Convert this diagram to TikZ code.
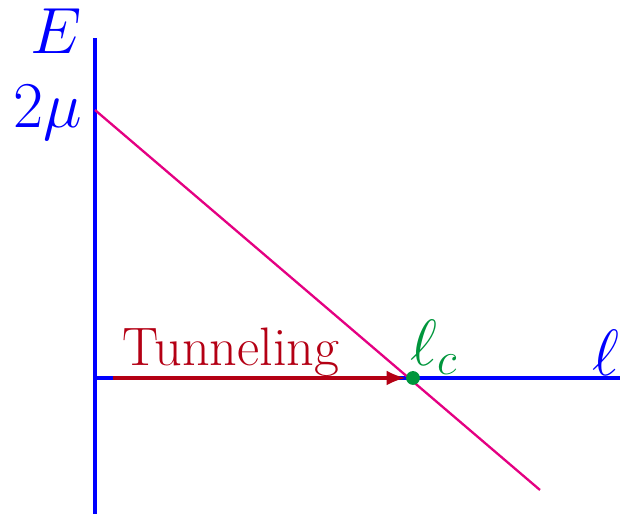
\RequirePackage{fix-cm}
\documentclass[tikz,border=0pt]{standalone}
\usepackage{tikz}
\usetikzlibrary{arrows.meta, positioning}
\definecolor{axisblue}{RGB}{0, 0, 255}
\definecolor{linemagenta}{RGB}{228, 0, 130}
\definecolor{tunnelred}{RGB}{180, 0, 20}
\definecolor{pointgreen}{RGB}{0, 150, 60}

\begin{document}
\begin{tikzpicture}[
    axis/.style={draw=axisblue, line width=1.5pt},
    cutline/.style={draw=linemagenta, line width=1.1pt},
    tunnel/.style={draw=tunnelred, line width=1.5pt,
                   -{Latex[length=9pt, width=7pt]}},
    dot/.style={circle, fill=pointgreen, inner sep=0pt, minimum size=0.23cm},
    mlbl/.style={inner sep=0pt, font=\fontsize{31}{36}\selectfont},
    tlbl/.style={inner sep=0pt, text=tunnelred, font=\fontsize{25.7}{30}\selectfont}
]
    \useasboundingbox (0,0) rectangle (10.367,8.567);
    % axes
    \coordinate (O) at (1.583,2.267);
    \coordinate (Etop) at (1.583,7.933);
    \coordinate (Ebot) at (1.583,0);
    \coordinate (lend) at (10.333,2.267);
    \coordinate (mutop) at (1.583,6.733);
    \coordinate (cutend) at (9.0,0.4);
    \coordinate (tstart) at (1.883,2.267);
    \draw[axis] (Ebot) -- (Etop);
    \draw[axis] (O) -- (lend);
    \draw[cutline] (mutop) -- (cutend);
    \node[dot] (lc) at (6.883,2.267) {};
    \draw[tunnel] (tstart) -- (lc.west);
    % labels
    \node[mlbl, text=axisblue, anchor=base east] (Elbl) at (1.367,7.667) {$E$};
    \node[mlbl, text=axisblue, anchor=base east] (mulbl) at (1.367,6.45) {$2\mu$};
    \node[mlbl, text=axisblue, anchor=base east] (llbl) at (10.333,2.3) {$\ell$};
    \node[mlbl, text=pointgreen, anchor=base west] (lclbl) at (6.833,2.483) {$\ell_c$};
    \node[tlbl, anchor=base west] (tlabel) at (2.033,2.483) {Tunneling};
\end{tikzpicture}
\end{document}
